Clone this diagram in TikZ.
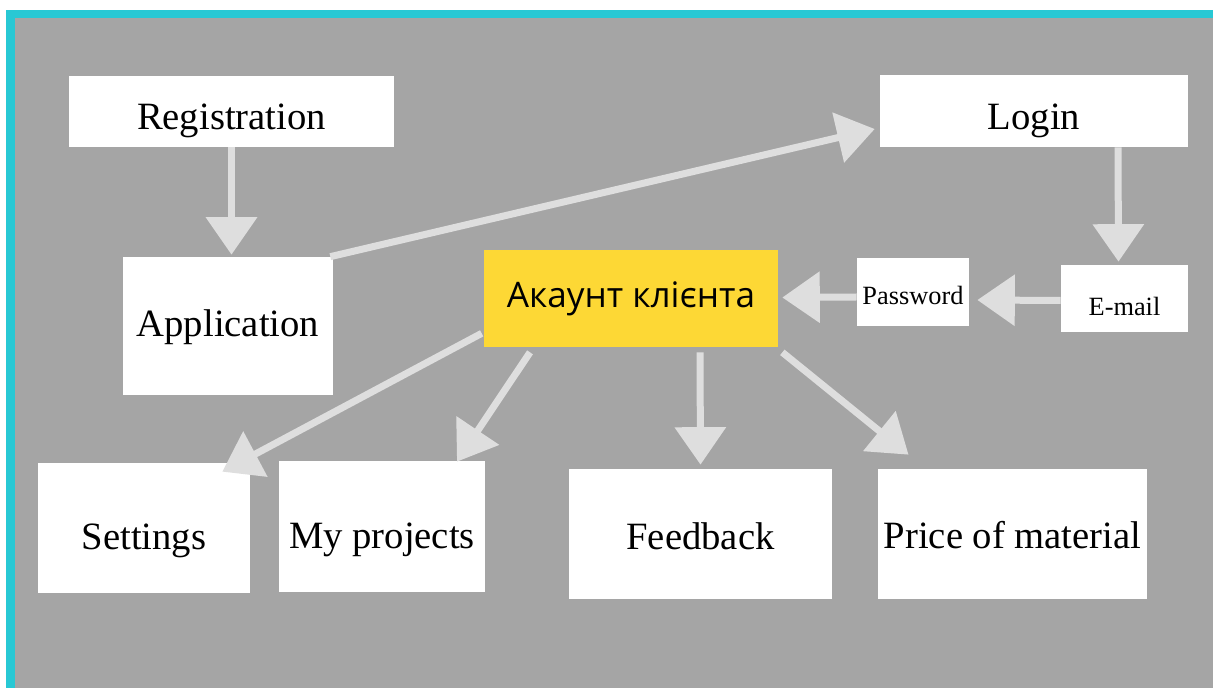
\documentclass[tikz,border=0pt]{standalone}
\usepackage{fontspec}
\setmainfont{Liberation Serif}
\newfontfamily\uafont{Open Sans}
\usetikzlibrary{arrows.meta,calc}

\definecolor{bggray}{RGB}{165,165,165}
\definecolor{framecyan}{RGB}{40,200,212}
\definecolor{arrowgray}{RGB}{222,222,222}
\definecolor{accyellow}{RGB}{253,216,53}

\tikzset{
  box/.style={fill=white, inner sep=0pt, font=\fontsize{22}{26}\selectfont},
  smallbox/.style={box, font=\fontsize{15}{18}\selectfont},
  account/.style={fill=accyellow, inner sep=0pt, font=\uafont\fontsize{20}{24}\selectfont},
  drop/.style={text height=#1, text depth=0pt},
  link/.style={draw=arrowgray, line width=0.14cm,
    -{Triangle[width=1cm,length=0.75cm]}}
}

\begin{document}
\begin{tikzpicture}[x=0.02cm, y=-0.02cm]
    % frame and background
    \useasboundingbox (0,0) rectangle (1213,688);
    \fill[white] (0,0) rectangle (1213,688);
    \fill[framecyan] (6,10) rectangle (1213,688);
    \fill[bggray] (15,18) rectangle (1213,688);

    % boxes
    \node[box, drop=21pt, minimum width=6.5cm, minimum height=1.42cm] (reg) at (231.5,111.5) {Registration};
    \node[box, drop=21pt, minimum width=6.16cm, minimum height=1.44cm] (login) at (1034,111) {Login};
    \node[box, drop=12.5pt, minimum width=4.2cm, minimum height=2.76cm] (app) at (228,326) {Application};
    \node[account, drop=9.7pt, minimum width=5.88cm, minimum height=1.94cm] (acc) at (631,298.5) {Акаунт клієнта};
    \node[smallbox, drop=14.8pt, minimum width=2.24cm, minimum height=1.36cm] (pass) at (913,292) {Password};
    \node[smallbox, drop=18.8pt, minimum width=2.54cm, minimum height=1.34cm] (mail) at (1124.5,298.5) {E-mail};
    \node[box, drop=25pt, minimum width=4.24cm, minimum height=2.6cm] (set) at (144,528) {Settings};
    \node[box, drop=24.5pt, minimum width=4.12cm, minimum height=2.62cm] (proj) at (382,526.5) {My projects};
    \node[box, drop=18.2pt, minimum width=5.26cm, minimum height=2.6cm] (feed) at (700.5,534) {Feedback};
    \node[box, drop=17pt, minimum width=5.38cm, minimum height=2.6cm] (price) at (1012.5,534) {Price of material};

    % arrows
    \draw[link] (reg.south) -- ($(reg.south |- app.north)+(0,-2)$);
    \draw[link] ($(app.north east)+(-3,0)$) -- ($(login.west)+(-5,18)$);
    \draw[link] ($(login.south)+(84,0)$) -- ($(mail.north)+(-6,-3)$);
    \draw[link] ($(mail.west)+(0,2)$) -- ($(pass.east)+(8,8)$);
    \draw[link] ($(pass.west)+(0,5)$) -- ($(acc.east)+(4,-1)$);
    \draw[link] ($(acc.south west)+(-2,-14)$) -- ($(set.north east)+(-28,9)$);
    \draw[link] ($(acc.south)+(-101,5)$) -- ($(proj.north)+(75,1)$);
    \draw[link] ($(acc.south)+(69,5)$) -- ($(feed.north)+(0,-4)$);
    \draw[link] ($(acc.south east)+(4,5)$) -- ($(price.north)+(-104,-14)$);
\end{tikzpicture}
\end{document}
